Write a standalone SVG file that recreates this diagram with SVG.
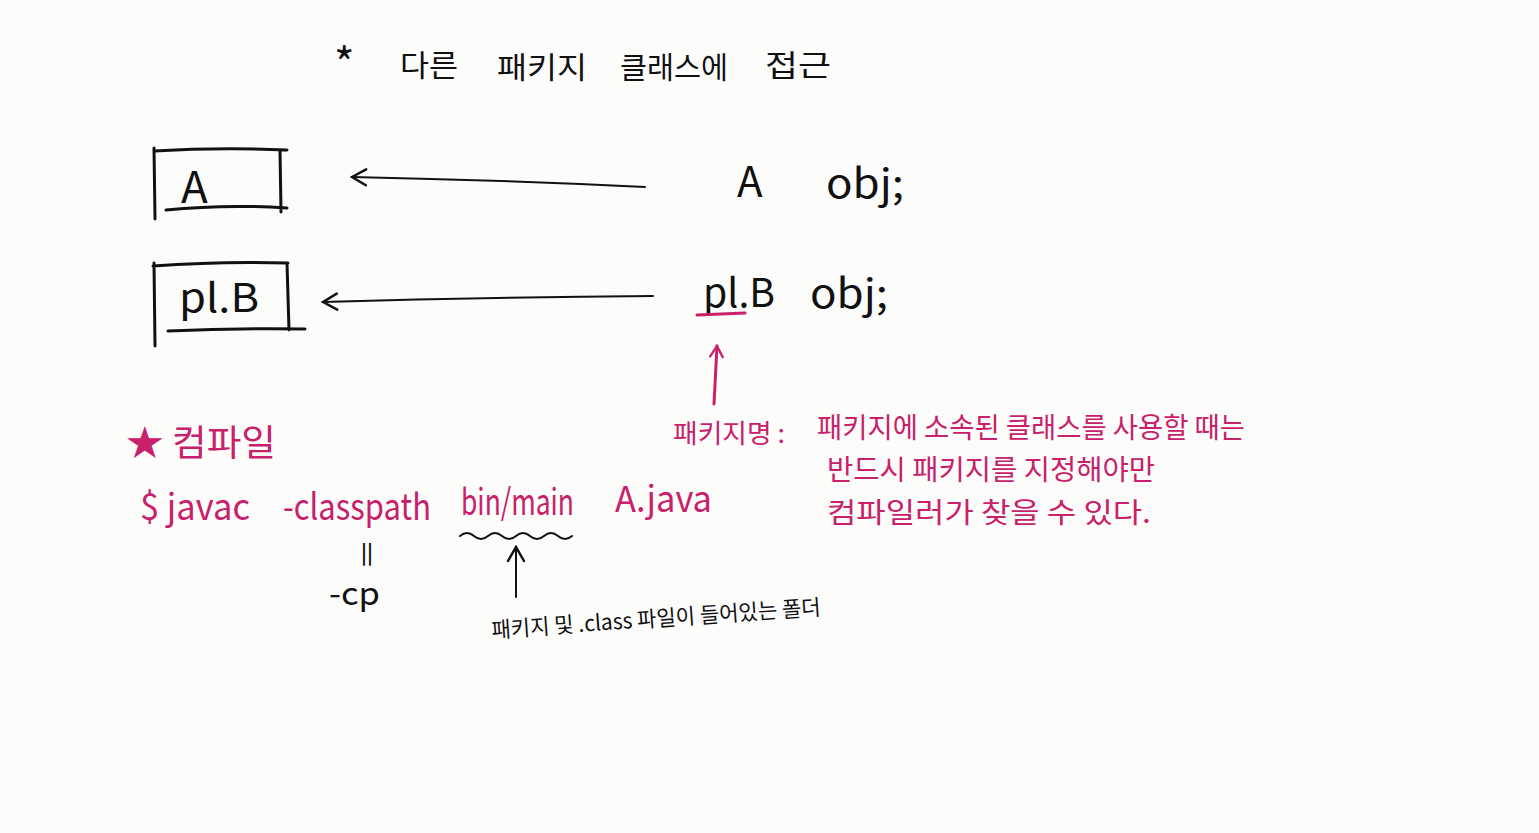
<svg xmlns="http://www.w3.org/2000/svg" width="1539" height="833" viewBox="0 0 1539 833">
<style>
.k{fill:#111;font-family:"Noto Sans CJK KR","Noto Sans",sans-serif;}
.p{fill:#c8206a;font-family:"Noto Sans CJK KR","Noto Sans",sans-serif;}
.ln{fill:none;stroke:#111;stroke-width:3;stroke-linecap:round;}
.lp{fill:none;stroke:#c8206a;stroke-width:3;stroke-linecap:round;}
.c{fill:none;stroke:#111;stroke-width:2;stroke-linecap:round;}
</style>
<defs>
<marker id="ah" viewBox="0 0 20 20" refX="18" refY="10" markerWidth="20" markerHeight="20" markerUnits="userSpaceOnUse" orient="auto">
<path d="M4 2 L18 10 L4 18" fill="none" stroke="#111" stroke-width="2.5" stroke-linecap="round"/>
</marker>
<marker id="ahp" viewBox="0 0 20 20" refX="18" refY="10" markerWidth="18" markerHeight="18" markerUnits="userSpaceOnUse" orient="auto">
<path d="M6 3 L18 10 L6 17" fill="none" stroke="#c8206a" stroke-width="2.5" stroke-linecap="round"/>
</marker>
</defs>
<rect width="1539" height="833" fill="#fcfcfb"/>

<g id="title">
<text class="k" x="334" y="80" font-size="44">*</text>
<text class="k" x="400" y="76" font-size="30" textLength="58" lengthAdjust="spacingAndGlyphs">다른</text>
<text class="k" x="497" y="78" font-size="30" textLength="90" lengthAdjust="spacingAndGlyphs">패키지</text>
<text class="k" x="620" y="78" font-size="30" textLength="108" lengthAdjust="spacingAndGlyphs">클래스에</text>
<text class="k" x="765" y="76" font-size="30" textLength="66" lengthAdjust="spacingAndGlyphs">접근</text>
</g>

<g id="boxA">
<path class="ln" d="M154 148 L155 219 M154 151 Q220 147 287 150 M280 150 L281 212 M166 210 Q225 204 287 208"/>
<text class="k" x="181" y="203" font-size="44">A</text>
</g>

<g id="boxB">
<path class="ln" d="M154 263 L155 346 M153 266 Q220 261 288 263 M287 263 L289 330 M168 331 Q235 328 305 329"/>
<text class="k" x="179" y="312" font-size="40" textLength="80" lengthAdjust="spacingAndGlyphs">pl.B</text>
</g>

<g id="declA">
<text class="k" x="737" y="197" font-size="42">A</text>
<text class="k" x="826" y="198" font-size="40" textLength="78" lengthAdjust="spacingAndGlyphs">obj;</text>
</g>

<g id="declB">
<text class="k" x="703" y="307" font-size="40" textLength="72" lengthAdjust="spacingAndGlyphs">pl.B</text>
<text class="k" x="810" y="308" font-size="40" textLength="78" lengthAdjust="spacingAndGlyphs">obj;</text>
<path class="lp" d="M697 315 L745 313"/>
</g>

<g id="connectors">
<path class="c" d="M645 187 Q500 180 352 177" marker-end="url(#ah)"/>
<path class="c" d="M653 296 Q490 297 323 302" marker-end="url(#ah)"/>
<path class="lp" d="M714 404 L717 346" marker-end="url(#ahp)" stroke-width="2.5"/>
<path class="c" d="M516 597 L516 547" marker-end="url(#ah)"/>
<path class="c" d="M460 536 q7 -6 14 0 t14 0 t14 0 t14 0 t14 0 t14 0 t14 0 t14 0"/>
</g>

<g id="pkgname">
<text class="p" x="673" y="443" font-size="26" textLength="112" lengthAdjust="spacingAndGlyphs">패키지명 :</text>
<text class="p" x="817" y="438" font-size="28" textLength="428" lengthAdjust="spacingAndGlyphs">패키지에 소속된 클래스를 사용할 때는</text>
<text class="p" x="827" y="480" font-size="28" textLength="328" lengthAdjust="spacingAndGlyphs">반드시 패키지를 지정해야만</text>
<text class="p" x="827" y="523" font-size="28" textLength="324" lengthAdjust="spacingAndGlyphs">컴파일러가 찾을 수 있다.</text>
</g>

<g id="compile">
<text class="p" x="126" y="456" font-size="36" textLength="150" lengthAdjust="spacingAndGlyphs">★ 컴파일</text>
<text class="p" x="140" y="520" font-size="36" textLength="110" lengthAdjust="spacingAndGlyphs">$ javac</text>
<text class="p" x="283" y="520" font-size="36" textLength="148" lengthAdjust="spacingAndGlyphs">-classpath</text>
<text class="p" x="461" y="515" font-size="36" textLength="113" lengthAdjust="spacingAndGlyphs">bin/main</text>
<text class="p" x="615" y="512" font-size="36" textLength="97" lengthAdjust="spacingAndGlyphs">A.java</text>
</g>

<g id="cp">
<text class="k" x="361" y="560" font-size="20" font-weight="bold">||</text>
<text class="k" x="329" y="605" font-size="32" textLength="51" lengthAdjust="spacingAndGlyphs">-cp</text>
</g>

<g id="folder">
<text class="k" x="492" y="638" font-size="22" textLength="330" lengthAdjust="spacingAndGlyphs" transform="rotate(-4 492 638)">패키지 및 .class 파일이 들어있는 폴더</text>
</g>
</svg>
